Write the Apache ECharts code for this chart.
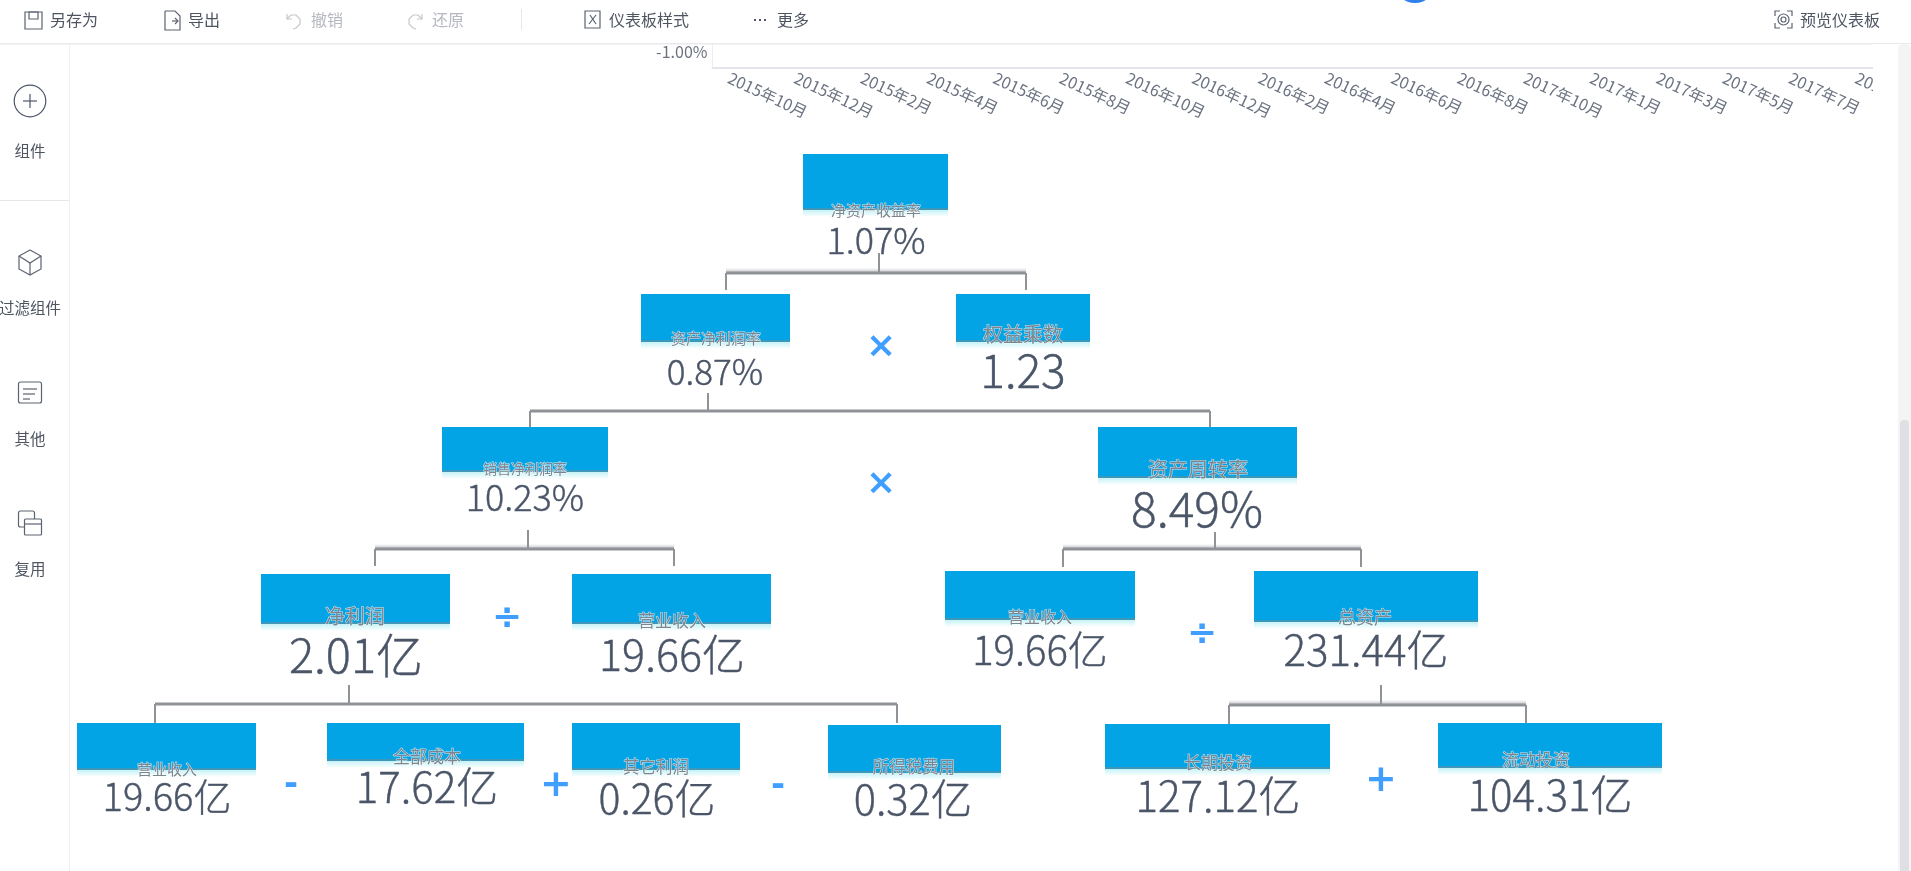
<!DOCTYPE html>
<html>
<head>
<meta charset="utf-8">
<style>html,body{margin:0;padding:0;background:#fff}#main{width:1911px;height:871px}</style>
<script src="https://cdn.jsdelivr.net/npm/echarts@6/dist/echarts.min.js"></script>
</head>
<body>
<div id="main"></div>
<script>
// 趋势图被裁剪后剩下的部分
var monthLabels = [
    '2015年10月','2015年11月','2015年12月','2015年1月','2015年2月','2015年3月','2015年4月','2015年5月','2015年6月','2015年7月','2015年8月','2015年9月',
    '2016年10月','2016年11月','2016年12月','2016年1月','2016年2月','2016年3月','2016年4月','2016年5月','2016年6月','2016年7月','2016年8月','2016年9月',
    '2017年10月','2017年11月','2017年1月','2017年2月','2017年3月','2017年4月','2017年5月','2017年6月','2017年7月','2017年8月','2017年9月'
];
var rateLabels = ['-1.00%'];

// 指标名称和数值
var metricNames = ['净资产收益率','资产净利润率','权益乘数','销售净利润率','资产周转率','净利润','营业收入','营业收入','总资产','营业收入','全部成本','其它利润','所得税费用','长期投资','流动投资'];
var metricValues = ['1.07%','0.87%','1.23','10.23%','8.49%','2.01亿','19.66亿','19.66亿','231.44亿','19.66亿','17.62亿','0.26亿','0.32亿','127.12亿','104.31亿'];

// 卡片位置：x0,x1,y0,y1, 名称中心x,y,字号, 数值中心x,y,字号
var cardLayout = [
    [803,948,154,210, 876,210,15, 876,240,36],
    [641,790,294,342, 716,338,15, 715,372,35],
    [956,1090,294,342, 1023,334,20, 1023,371,46],
    [442,608,427,472, 525,469,14, 525,497,36],
    [1098,1297,427,478, 1198,469,20, 1197,509,48],
    [261,450,574,624, 355,616,20, 356,655,47],
    [572,771,574,624, 672,621,17, 672,655,43],
    [945,1135,571,620, 1040,617,16, 1040,650,40],
    [1254,1478,571,622, 1365,617,18, 1366,650,42],
    [77,256,723,770, 167,769,15, 167,797,38],
    [327,524,723,761, 427,757,17, 427,787,42],
    [572,740,723,770, 656,767,16.5, 657,798,41],
    [828,1001,725,773, 914,767,16.5, 913,799,41.5],
    [1105,1330,724,769, 1218,763,17, 1218,796,42],
    [1438,1662,723,768, 1536,760,17, 1550,795,42]
];

// 连接线：主干x,主干顶y,横线y,左x,右x,腿底y,是否有阴影
var connectorLayout = [
    [879,253,273,726,1026,290,1],
    [708,393,411,530,1210,427,0],
    [528,530,549,375,674,566,1],
    [1215,532,549,1063,1361,567,1],
    [349,685,704,155,897,723,0],
    [1381,685,705,1229,1526,724,1]
];

var operatorSigns = ['×','×','÷','÷','-','+','-','+'];
var operatorLayout = [[881,348,36],[881,485,36],[507,620,36],[1202,636,36],[291,785,34],[556,786,38],[778,786,34],[1381,781,38]];

var pageWidth = 1911, pageHeight = 871;
var barFont = '"Noto Sans CJK SC", sans-serif';
var numFont = '"Noto Sans CJK SC", sans-serif';
var valueColor = '#4a5568';

var myChart = echarts.init(document.getElementById('main'));

function renderCard(params, api) {
    var c = cardLayout[api.value(0)];
    var a = api.coord([c[0], c[2]]), b = api.coord([c[1], c[3]]);
    var w = b[0] - a[0], h = b[1] - a[1];
    return {
        type: 'group',
        children: [
            {type: 'rect', shape: {x: a[0], y: a[1], width: w, height: h}, style: {fill: '#03a4e6'}},
            {type: 'rect', shape: {x: a[0], y: b[1] - 2, width: w, height: 2}, style: {fill: '#3e97b8'}},
            {type: 'rect', shape: {x: a[0], y: b[1], width: w, height: 7}, style: {
                fill: new echarts.graphic.LinearGradient(0, 0, 0, 1, [{offset: 0, color: '#c4f3f7'}, {offset: 1, color: '#ffffff'}])
            }},
            {type: 'text', x: api.coord([c[4], 0])[0], y: api.coord([0, c[5]])[1], style: {
                text: metricNames[api.value(0)], font: c[6] + 'px ' + barFont, fill: '#7f858e',
                stroke: 'rgba(255,255,255,0.75)', lineWidth: 1, align: 'center', verticalAlign: 'middle'
            }},
            {type: 'text', x: api.coord([c[7], 0])[0], y: api.coord([0, c[8]])[1], style: {
                text: metricValues[api.value(0)], font: '300 ' + c[9] + 'px ' + numFont, fill: valueColor,
                stroke: valueColor, lineWidth: 0.4, align: 'center', verticalAlign: 'middle'
            }}
        ]
    };
}

function renderConnector(params, api) {
    var c = connectorLayout[api.value(0)];
    var stemTop = api.coord([c[0], c[1]]), stemEnd = api.coord([c[0], c[2]]);
    var left = api.coord([c[3], c[2]]), right = api.coord([c[4], c[2]]);
    var style = {stroke: '#8f9297', lineWidth: 2, fill: 'none'};
    var kids = [
        {type: 'line', shape: {x1: stemTop[0], y1: stemTop[1], x2: stemEnd[0], y2: stemEnd[1]}, style: style},
        {type: 'line', shape: {x1: left[0], y1: left[1], x2: right[0], y2: right[1]}, style: {stroke: '#8f9297', lineWidth: 3, fill: 'none'}},
        {type: 'line', shape: {x1: left[0], y1: left[1], x2: left[0], y2: api.coord([0, c[5]])[1]}, style: style},
        {type: 'line', shape: {x1: right[0], y1: right[1], x2: right[0], y2: api.coord([0, c[5]])[1]}, style: style}
    ];
    if (c[6]) {
        kids.unshift({type: 'rect', shape: {x: left[0], y: left[1] - 5, width: right[0] - left[0], height: 5}, style: {
            fill: new echarts.graphic.LinearGradient(0, 0, 0, 1, [{offset: 0, color: '#ffffff'}, {offset: 1, color: '#b9bbbe'}])
        }});
    }
    return {type: 'group', children: kids};
}

function renderOperator(params, api) {
    var o = operatorLayout[api.value(0)];
    var p = api.coord([o[0], o[1]]);
    return {type: 'text', x: p[0], y: p[1], style: {
        text: operatorSigns[api.value(0)], font: 'bold ' + o[2] + 'px "DejaVu Sans", sans-serif',
        fill: '#409eff', align: 'center', verticalAlign: 'middle'
    }};
}

function indexData(list) {
    return list.map(function (d, i) { return [i]; });
}

// 工具栏和侧边栏
var grayIcon = {stroke: '#5b6270', lineWidth: 1.2, fill: 'none'};
var fadedIcon = {stroke: '#c4c7cc', lineWidth: 1.2, fill: 'none'};
function barText(text, x, color) {
    return {type: 'text', x: x, y: 20, z: 101, zlevel: 1, style: {text: text, font: '16px ' + barFont, fill: color || '#4e5561', verticalAlign: 'middle'}};
}
function sideText(text, y) {
    return {type: 'text', x: 30, y: y, z: 101, zlevel: 1, style: {text: text, font: '15.5px ' + barFont, fill: '#4e5561', align: 'center', verticalAlign: 'middle'}};
}
function iconRect(x, y, w, h, st, r) {
    return {type: 'rect', z: 101, zlevel: 1, shape: {x: x, y: y, width: w, height: h, r: r || 0}, style: st};
}
function iconLine(points, st) {
    return {type: 'polyline', z: 101, zlevel: 1, shape: {points: points}, style: st};
}

var chrome = [
    iconRect(0, 0, 1911, 43, {fill: '#ffffff'}),
    iconRect(0, 43, 1911, 1.5, {fill: '#e9e9ee'}),
    {type: 'circle', z: 101, zlevel: 1, shape: {cx: 1415, cy: -18, r: 21}, style: {fill: '#2f80ed'}},
    iconRect(1873, 44, 38, 100, {fill: '#ffffff'}),
    iconRect(69, 44, 1, 827, {fill: '#efeff2'}),
    iconRect(0, 200, 69, 1, {fill: '#e6e6ea'}),
    iconRect(1898, 44, 13, 840, {fill: '#f4f4f5'}, 5),
    iconRect(1900, 420, 9, 460, {fill: '#dfe0e3'}, 4),

    iconRect(25, 12, 17, 17, grayIcon),
    iconRect(29, 12, 9, 7, grayIcon),
    barText('另存为', 50),
    iconLine([[165,11],[175,11],[180,16],[180,30],[165,30],[165,11]], grayIcon),
    iconLine([[172,21],[178,21]], grayIcon),
    iconLine([[175,18],[178,21],[175,24]], grayIcon),
    barText('导出', 188),
    iconLine([[287,14],[287,19],[292,19]], fadedIcon),
    iconLine([[287,19],[291,15],[296,15],[300,19],[300,24],[296,28],[293,29]], fadedIcon),
    barText('撤销', 311, '#b5b8be'),
    iconLine([[422,14],[422,19],[417,19]], fadedIcon),
    iconLine([[422,19],[418,15],[413,15],[409,19],[409,24],[413,28],[416,29]], fadedIcon),
    barText('还原', 432, '#b5b8be'),
    iconRect(521, 9, 1, 21, {fill: '#e6e6ea'}),
    iconRect(585, 11, 15, 17, grayIcon),
    iconLine([[589,24],[596,15]], grayIcon),
    iconLine([[590,15],[596,24]], grayIcon),
    barText('仪表板样式', 609),
    iconRect(754, 19, 2, 2, {fill: '#4e5561'}),
    iconRect(759, 19, 2, 2, {fill: '#4e5561'}),
    iconRect(764, 19, 2, 2, {fill: '#4e5561'}),
    barText('更多', 777),
    iconLine([[1775,16],[1775,11],[1780,11]], grayIcon),
    iconLine([[1787,11],[1792,11],[1792,16]], grayIcon),
    iconLine([[1792,23],[1792,28],[1787,28]], grayIcon),
    iconLine([[1780,28],[1775,28],[1775,23]], grayIcon),
    {type: 'circle', z: 101, zlevel: 1, shape: {cx: 1783.5, cy: 19.5, r: 5.5}, style: grayIcon},
    {type: 'circle', z: 101, zlevel: 1, shape: {cx: 1783.5, cy: 19.5, r: 2.5}, style: grayIcon},
    barText('预览仪表板', 1800),

    {type: 'circle', z: 101, zlevel: 1, shape: {cx: 30, cy: 101, r: 15.8}, style: {stroke: '#4a5568', lineWidth: 1.2, fill: 'none'}},
    iconLine([[23,101],[37,101]], {stroke: '#4a5568', lineWidth: 1.2, fill: 'none'}),
    iconLine([[30,94],[30,108]], {stroke: '#4a5568', lineWidth: 1.2, fill: 'none'}),
    sideText('组件', 151),
    iconLine([[30,250],[41,256],[41,269],[30,275],[19,269],[19,256],[30,250]], grayIcon),
    iconLine([[19,256],[30,263],[41,256]], grayIcon),
    iconLine([[30,263],[30,275]], grayIcon),
    sideText('过滤组件', 308),
    iconRect(18.5, 382, 23, 21, grayIcon, 2),
    iconLine([[23,389],[37,389]], grayIcon),
    iconLine([[23,394],[35,394]], grayIcon),
    iconLine([[23,399],[30,399]], grayIcon),
    sideText('其他', 439),
    iconRect(18.5, 511, 16, 16, grayIcon, 2),
    iconRect(24.5, 519, 17, 16, {stroke: '#5b6270', lineWidth: 1.2, fill: '#ffffff'}, 1),
    iconLine([[24.5,524],[41.5,524]], grayIcon),
    sideText('复用', 569)
];

var option = {
    animation: false,
    graphic: {elements: chrome},
    grid: [
        {left: 712.5, right: 38, top: 35, height: 33, outerBoundsMode: 'none'},
        {left: 0, right: 0, top: 0, bottom: 0, outerBoundsMode: 'none'}
    ],
    xAxis: [
        {
            type: 'category', gridIndex: 0, data: monthLabels, boundaryGap: true,
            axisTick: {show: false},
            axisLine: {lineStyle: {color: '#e4e4ec', width: 2}},
            axisLabel: {interval: 1, rotate: -25, margin: 9, fontSize: 16, color: '#6b7280', fontFamily: barFont}
        },
        {type: 'value', gridIndex: 1, min: 0, max: pageWidth, show: false}
    ],
    yAxis: [
        {
            type: 'category', gridIndex: 0, data: rateLabels,
            axisTick: {show: false},
            axisLine: {show: true, lineStyle: {color: '#eceef2'}},
            axisLabel: {margin: 5, fontSize: 16, color: '#6b7280', fontFamily: barFont}
        },
        {type: 'value', gridIndex: 1, min: 0, max: pageHeight, inverse: true, show: false}
    ],
    series: [
        {type: 'custom', name: '连接线', xAxisIndex: 1, yAxisIndex: 1, silent: true, clip: false, data: indexData(connectorLayout), renderItem: renderConnector, encode: {x: 0}},
        {type: 'custom', name: '指标卡', xAxisIndex: 1, yAxisIndex: 1, silent: true, clip: false, data: indexData(metricNames), renderItem: renderCard, encode: {x: 0}},
        {type: 'custom', name: '运算符', xAxisIndex: 1, yAxisIndex: 1, silent: true, clip: false, data: indexData(operatorSigns), renderItem: renderOperator, encode: {x: 0}}
    ]
};

myChart.setOption(option);
</script>
</body>
</html>
